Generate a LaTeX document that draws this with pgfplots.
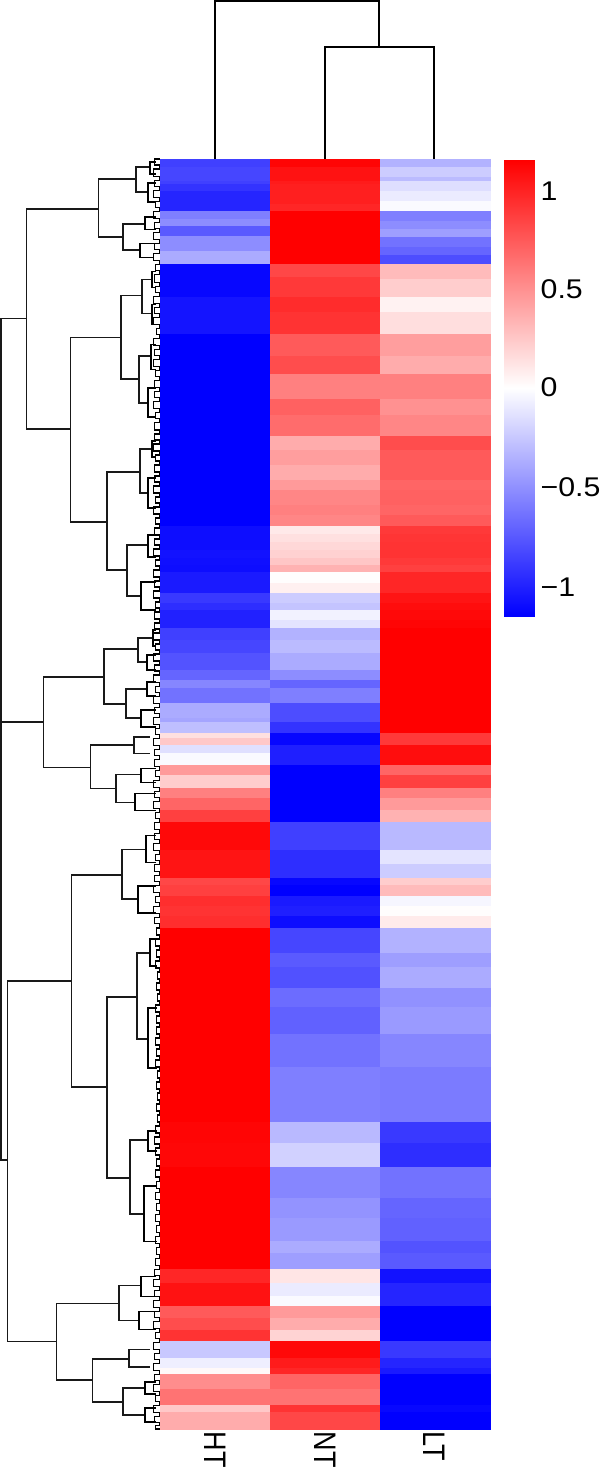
\documentclass[border=0pt]{standalone}
\usepackage{fontspec}
\setmainfont{Liberation Sans}
\usepackage{graphicx}
\usepackage{pgfplots}
\pgfplotsset{compat=1.18}
\newcommand{\lab}[1]{\scalebox{1.12}[1]{\fontsize{27}{27}\selectfont #1}}
\newcommand{\collab}[1]{\scalebox{1}[1.15]{\fontsize{27}{27}\selectfont #1}}

\begin{document}
\begin{tikzpicture}
\begin{axis}[
  scale only axis,
  width=600pt, height=1468pt,
  xmin=0, xmax=600, ymin=0, ymax=1468,
  y dir=reverse,
  hide axis,
  clip=false,
  unbounded coords=jump,
  colormap={bwr}{rgb255=(0,0,255) rgb255=(255,255,255) rgb255=(255,0,0)},
  point meta min=-1.16, point meta max=1.16,
]
% heatmap: each line is one band, top edge y, then HT NT LT (last meta is a dummy)
\addplot[surf, shader=flat corner, mesh/cols=4, point meta=explicit] coordinates {
(160,160)[-.87] (270,160)[1.14] (380,160)[-.35] (490,160)[0]
(160,168)[-.84] (270,168)[1.08] (380,168)[-.23] (490,168)[0]
(160,178)[-.84] (270,178)[1.08] (380,178)[-.31] (490,178)[0]
(160,182)[-.87] (270,182)[1.04] (380,182)[-.15] (490,182)[0]
(160,185)[-.93] (270,185)[1.02] (380,185)[-.15] (490,185)[0]
(160,192)[-.99] (270,192)[1.02] (380,192)[-.09] (490,192)[0]
(160,202)[-.99] (270,202)[1.02] (380,202)[-.02] (490,202)[0]
(160,205)[-.99] (270,205)[.99] (380,205)[-.02] (490,205)[0]
(160,212)[-.58] (270,212)[1.16] (380,212)[-.58] (490,212)[0]
(160,220)[-.52] (270,220)[1.16] (380,220)[-.58] (490,220)[0]
(160,222)[-.52] (270,222)[1.16] (380,222)[-.52] (490,222)[0]
(160,227)[-.75] (270,227)[1.16] (380,227)[-.52] (490,227)[0]
(160,230)[-.75] (270,230)[1.16] (380,230)[-.44] (490,230)[0]
(160,237)[-.52] (270,237)[1.16] (380,237)[-.44] (490,237)[0]
(160,238)[-.52] (270,238)[1.16] (380,238)[-.64] (490,238)[0]
(160,248)[-.52] (270,248)[1.16] (380,248)[-.70] (490,248)[0]
(160,252)[-.38] (270,252)[1.16] (380,252)[-.70] (490,252)[0]
(160,256)[-.38] (270,256)[1.16] (380,256)[-.81] (490,256)[0]
(160,265)[-1.13] (270,265)[.84] (380,265)[.31] (490,265)[0]
(160,278)[-1.13] (270,278)[.90] (380,278)[.31] (490,278)[0]
(160,280)[-1.13] (270,280)[.90] (380,280)[.23] (490,280)[0]
(160,298)[-1.07] (270,298)[.96] (380,298)[.06] (490,298)[0]
(160,313)[-1.07] (270,313)[.93] (380,313)[.15] (490,313)[0]
(160,335)[-1.16] (270,335)[.75] (380,335)[.44] (490,335)[0]
(160,357)[-1.16] (270,357)[.81] (380,357)[.38] (490,357)[0]
(160,375)[-1.16] (270,375)[.58] (380,375)[.58] (490,375)[0]
(160,400)[-1.16] (270,400)[.72] (380,400)[.50] (490,400)[0]
(160,415)[-1.16] (270,415)[.67] (380,415)[.55] (490,415)[0]
(160,436)[-1.16] (270,436)[.38] (380,436)[.81] (490,436)[0]
(160,450)[-1.16] (270,450)[.44] (380,450)[.75] (490,450)[0]
(160,465)[-1.16] (270,465)[.38] (380,465)[.75] (490,465)[0]
(160,480)[-1.16] (270,480)[.46] (380,480)[.70] (490,480)[0]
(160,490)[-1.16] (270,490)[.55] (380,490)[.72] (490,490)[0]
(160,505)[-1.16] (270,505)[.58] (380,505)[.70] (490,505)[0]
(160,515)[-1.16] (270,515)[.55] (380,515)[.75] (490,515)[0]
(160,526)[-1.10] (270,526)[.10] (380,526)[.90] (490,526)[0]
(160,534)[-1.10] (270,534)[.14] (380,534)[.92] (490,534)[0]
(160,542)[-1.10] (270,542)[.18] (380,542)[.93] (490,542)[0]
(160,550)[-1.08] (270,550)[.21] (380,550)[.93] (490,550)[0]
(160,558)[-1.09] (270,558)[.26] (380,558)[.90] (490,558)[0]
(160,565)[-1.10] (270,565)[.35] (380,565)[.87] (490,565)[0]
(160,572)[-1.04] (270,572)[.01] (380,572)[.99] (490,572)[0]
(160,583)[-1.04] (270,583)[.07] (380,583)[.99] (490,583)[0]
(160,593)[-.90] (270,593)[-.23] (380,593)[1.07] (490,593)[0]
(160,603)[-.95] (270,603)[-.27] (380,603)[1.10] (490,603)[0]
(160,610)[-1.01] (270,610)[-.06] (380,610)[1.12] (490,610)[0]
(160,620)[-1.01] (270,620)[-.12] (380,620)[1.14] (490,620)[0]
(160,628)[-.87] (270,628)[-.35] (380,628)[1.16] (490,628)[0]
(160,640)[-.84] (270,640)[-.31] (380,640)[1.16] (490,640)[0]
(160,653)[-.78] (270,653)[-.38] (380,653)[1.16] (490,653)[0]
(160,670)[-.70] (270,670)[-.52] (380,670)[1.16] (490,670)[0]
(160,680)[-.55] (270,680)[-.70] (380,680)[1.16] (490,680)[0]
(160,688)[-.64] (270,688)[-.58] (380,688)[1.16] (490,688)[0]
(160,703)[-.38] (270,703)[-.81] (380,703)[1.16] (490,703)[0]
(160,718)[-.41] (270,718)[-.81] (380,718)[1.16] (490,718)[0]
(160,722)[-.29] (270,722)[-.93] (380,722)[1.16] (490,722)[0]
(160,733)[.14] (270,733)[-1.13] (380,733)[.90] (490,733)[0]
(160,738)[.25] (270,738)[-1.13] (380,738)[.90] (490,738)[0]
(160,745)[-.14] (270,745)[-1.02] (380,745)[1.10] (490,745)[0]
(160,753)[-.02] (270,753)[-1.02] (380,753)[1.10] (490,753)[0]
(160,765)[.46] (270,765)[-1.16] (380,765)[.70] (490,765)[0]
(160,775)[.23] (270,775)[-1.16] (380,775)[.87] (490,775)[0]
(160,788)[.58] (270,788)[-1.16] (380,788)[.58] (490,788)[0]
(160,798)[.70] (270,798)[-1.16] (380,798)[.46] (490,798)[0]
(160,810)[.87] (270,810)[-1.16] (380,810)[.35] (490,810)[0]
(160,822)[1.12] (270,822)[-.87] (380,822)[-.32] (490,822)[0]
(160,850)[1.07] (270,850)[-.95] (380,850)[-.12] (490,850)[0]
(160,864)[1.07] (270,864)[-.95] (380,864)[-.23] (490,864)[0]
(160,878)[.84] (270,878)[-1.13] (380,878)[.23] (490,878)[0]
(160,885)[.87] (270,885)[-1.16] (380,885)[.31] (490,885)[0]
(160,896)[.95] (270,896)[-1.04] (380,896)[-.04] (490,896)[0]
(160,905)[.93] (270,905)[-1.02] (380,905)[.01] (490,905)[0]
(160,915)[.95] (270,915)[-1.10] (380,915)[.09] (490,915)[0]
(160,927)[1.16] (270,927)[-.84] (380,927)[-.35] (490,927)[0]
(160,952)[1.16] (270,952)[-.75] (380,952)[-.44] (490,952)[0]
(160,966)[1.16] (270,966)[-.79] (380,966)[-.38] (490,966)[0]
(160,987)[1.16] (270,987)[-.67] (380,987)[-.50] (490,987)[0]
(160,1006)[1.16] (270,1006)[-.72] (380,1006)[-.46] (490,1006)[0]
(160,1033)[1.16] (270,1033)[-.64] (380,1033)[-.55] (490,1033)[0]
(160,1066)[1.16] (270,1066)[-.58] (380,1066)[-.60] (490,1066)[0]
(160,1121)[1.14] (270,1121)[-.32] (380,1121)[-.90] (490,1121)[0]
(160,1142)[1.13] (270,1142)[-.21] (380,1142)[-.95] (490,1142)[0]
(160,1166)[1.16] (270,1166)[-.55] (380,1166)[-.64] (490,1166)[0]
(160,1197)[1.16] (270,1197)[-.49] (380,1197)[-.70] (490,1197)[0]
(160,1217)[1.16] (270,1217)[-.46] (380,1217)[-.72] (490,1217)[0]
(160,1240)[1.16] (270,1240)[-.38] (380,1240)[-.78] (490,1240)[0]
(160,1252)[1.16] (270,1252)[-.44] (380,1252)[-.75] (490,1252)[0]
(160,1268)[.99] (270,1268)[.12] (380,1268)[-1.08] (490,1268)[0]
(160,1282)[1.08] (270,1282)[-.09] (380,1282)[-.99] (490,1282)[0]
(160,1295)[1.08] (270,1295)[-.02] (380,1295)[-.99] (490,1295)[0]
(160,1305)[.75] (270,1305)[.46] (380,1305)[-1.16] (490,1305)[0]
(160,1317)[.81] (270,1317)[.38] (380,1317)[-1.16] (490,1317)[0]
(160,1329)[.93] (270,1329)[.20] (380,1329)[-1.16] (490,1329)[0]
(160,1340)[-.25] (270,1340)[1.12] (380,1340)[-.90] (490,1340)[0]
(160,1357)[-.07] (270,1357)[1.04] (380,1357)[-.99] (490,1357)[0]
(160,1367)[.03] (270,1367)[.99] (380,1367)[-1.04] (490,1367)[0]
(160,1373)[.52] (270,1373)[.70] (380,1373)[-1.16] (490,1373)[0]
(160,1388)[.64] (270,1388)[.64] (380,1388)[-1.16] (490,1388)[0]
(160,1403)[.25] (270,1403)[.93] (380,1403)[-1.13] (490,1403)[0]
(160,1410)[.38] (270,1410)[.84] (380,1410)[-1.16] (490,1410)[0]
(160,1427)[0] (270,1427)[0] (380,1427)[0] (490,1427)[0]
};
% colour bar
\addplot[surf, shader=interp, mesh/cols=2, point meta=explicit] coordinates {
(504,161)[1.16] (534,161)[1.16]
(504,388)[0] (534,388)[0]
(504,616)[-1.16] (534,616)[-1.16]
};
% column tree
\addplot[black, line width=1.8pt] coordinates {
(215,160)(215,2)(379,2)(379,48) (nan,nan)
(325,160)(325,48)(434,48)(434,160)
};
% row tree, upper levels
\addplot[black!90, line width=1.8pt] coordinates {
(1.5,722)(1.5,319)(27,319) (nan,nan) (1.5,722)(44,722) (nan,nan)
(1.5,722)(1.5,1159)(8,1159) (nan,nan)
(99,210)(27,210)(27,429)(71,429) (nan,nan)
(136,180)(99,180)(99,238)(123,238) (nan,nan)
(150,168)(136,168)(136,193)(148,193) (nan,nan)
(145,225)(123,225)(123,251)(140,251) (nan,nan)
(121,338)(71,338)(71,522)(107,522) (nan,nan)
(142,296)(121,296)(121,379)(139,379) (nan,nan)
(152,280)(142,280)(142,314)(152,314) (nan,nan)
(151,356)(139,356)(139,403)(148,403) (nan,nan)
(140,472)(107,472)(107,570)(127,570) (nan,nan)
(152,449)(140,449)(140,493)(148,493) (nan,nan)
(148,545)(127,545)(127,596)(141,596) (nan,nan)
(104,677)(44,677)(44,767)(91,767) (nan,nan)
(138,649)(104,649)(104,704)(126,704) (nan,nan)
(153,638)(138,638)(138,662)(147,662) (nan,nan)
(147,689)(126,689)(126,718)(141,718) (nan,nan)
(134,745)(91,745)(91,788)(116,788) (nan,nan)
(150,737)(134,737)(134,753)(150,753) (nan,nan)
(141,774)(116,774)(116,802)(135,802) (nan,nan)
(72,980)(8,980)(8,1340)(57,1340) (nan,nan)
(122,874)(72,874)(72,1086)(107,1086) (nan,nan)
(146,849)(122,849)(122,898)(138,898) (nan,nan)
(137,996)(107,996)(107,1177)(130,1177) (nan,nan)
(150,952)(137,952)(137,1038)(148,1038) (nan,nan)
(148,1139)(130,1139)(130,1213)(144,1213) (nan,nan)
(119,1302)(57,1302)(57,1378)(93,1378) (nan,nan)
(141,1284)(119,1284)(119,1319)(139,1319) (nan,nan)
(129,1357)(93,1357)(93,1400)(123,1400) (nan,nan)
(150,1348)(129,1348)(129,1365)(150,1365) (nan,nan)
(145,1386)(123,1386)(123,1413)(145,1413)
};
% row tree, small clusters
\addplot[black, line width=1.7pt] coordinates {
(156,163)(150,163)(150,175)(156,175) (nan,nan)
(156,184)(148,184)(148,203)(156,203) (nan,nan)
(156,218)(145,218)(145,230)(156,230) (nan,nan)
(154,244)(140,244)(140,258)(154,258) (nan,nan)
(156,272)(152,272)(152,288)(156,288) (nan,nan)
(156,305)(152,305)(152,325)(156,325) (nan,nan)
(156,345)(151,345)(151,370)(156,370) (nan,nan)
(156,388)(148,388)(148,417)(156,417) (nan,nan)
(156,441)(152,441)(152,457)(156,457) (nan,nan)
(156,478)(148,478)(148,508)(156,508) (nan,nan)
(156,535)(148,535)(148,557)(156,557) (nan,nan)
(156,582)(141,582)(141,610)(156,610) (nan,nan)
(156,630)(153,630)(153,646)(156,646) (nan,nan)
(156,655)(147,655)(147,670)(156,670) (nan,nan)
(156,682)(147,682)(147,696)(156,696) (nan,nan)
(156,710)(141,710)(141,727)(156,727) (nan,nan)
(156,768)(141,768)(141,782)(156,782) (nan,nan)
(156,793)(135,793)(135,810)(156,810) (nan,nan)
(156,835)(146,835)(146,862)(156,862) (nan,nan)
(156,885)(138,885)(138,912)(156,912) (nan,nan)
(157,938)(150,938)(150,965)(157,965) (nan,nan)
(157,1007)(148,1007)(148,1067)(157,1067) (nan,nan)
(157,1130)(148,1130)(148,1150)(157,1150) (nan,nan)
(157,1185)(144,1185)(144,1240)(157,1240) (nan,nan)
(156,1275)(141,1275)(141,1295)(156,1295) (nan,nan)
(156,1310)(139,1310)(139,1328)(156,1328) (nan,nan)
(156,1380)(145,1380)(145,1392)(156,1392) (nan,nan)
(156,1406)(145,1406)(145,1420)(156,1420)
};
% row tree, leaves: a comb along the heatmap edge
\addplot[black, line width=1.5pt] coordinates {
(160,160)(155,160)(155,166)(160,166)(160,170)(154,170)(154,177)(160,177)
(160,181)(155,181)(155,187)(160,187)(160,191)(154,191)(154,198)(160,198)
(160,202)(156,202)(156,208)(160,208)(160,212)(154,212)(154,219)(160,219)
(160,223)(155,223)(155,229)(160,229)(160,233)(154,233)(154,240)(160,240)
(160,244)(155,244)(155,250)(160,250)(160,254)(154,254)(154,261)(160,261)
(160,265)(156,265)(156,271)(160,271)(160,275)(155,275)(155,283)(160,283)
(160,287)(156,287)(156,293)(160,293)(160,297)(154,297)(154,304)(160,304)
(160,308)(155,308)(155,314)(160,314)(160,318)(154,318)(154,325)(160,325)
(160,329)(157,329)(157,335)(160,335)(160,339)(154,339)(154,346)(160,346)
(160,350)(155,350)(155,356)(160,356)(160,360)(154,360)(154,367)(160,367)
(160,371)(156,371)(156,377)(160,377)(160,381)(155,381)(155,388)(160,388)
(160,392)(155,392)(155,398)(160,398)(160,402)(154,402)(154,409)(160,409)
(160,413)(156,413)(156,419)(160,419)(160,423)(155,423)(155,430)(160,430)
(160,434)(155,434)(155,440)(160,440)(160,444)(154,444)(154,451)(160,451)
(160,455)(156,455)(156,461)(160,461)(160,465)(155,465)(155,472)(160,472)
(160,476)(155,476)(155,482)(160,482)(160,486)(154,486)(154,493)(160,493)
(160,497)(156,497)(156,503)(160,503)(160,507)(154,507)(154,514)(160,514)
(160,518)(156,518)(156,524)(160,524)(160,528)(155,528)(155,535)(160,535)
(160,539)(155,539)(155,545)(160,545)(160,549)(154,549)(154,556)(160,556)
(160,560)(156,560)(156,566)(160,566)(160,570)(154,570)(154,577)(160,577)
(160,581)(155,581)(155,587)(160,587)(160,591)(154,591)(154,598)(160,598)
(160,602)(156,602)(156,608)(160,608)(160,612)(155,612)(155,619)(160,619)
(160,623)(155,623)(155,629)(160,629)(160,633)(154,633)(154,640)(160,640)
(160,644)(156,644)(156,650)(160,650)(160,654)(154,654)(154,661)(160,661)
(160,665)(155,665)(155,671)(160,671)(160,675)(154,675)(154,682)(160,682)
(160,686)(156,686)(156,692)(160,692)(160,696)(154,696)(154,703)(160,703)
(160,707)(155,707)(155,713)(160,713)(160,717)(154,717)(154,724)(160,724)
(160,728)(156,728)(156,734)(160,734)(160,738)(154,738)(154,745)(160,745)
(160,749)(155,749)(155,755)(160,755)(160,759)(155,759)(155,766)(160,766)
(160,770)(156,770)(156,776)(160,776)(160,780)(154,780)(154,787)(160,787)
(160,791)(155,791)(155,797)(160,797)(160,801)(154,801)(154,808)(160,808)
(160,812)(156,812)(156,818)(160,818)(160,822)(155,822)(155,829)(160,829)
(160,833)(155,833)(155,839)(160,839)(160,843)(154,843)(154,850)(160,850)
(160,854)(156,854)(156,860)(160,860)(160,864)(155,864)(155,871)(160,871)
(160,875)(155,875)(155,881)(160,881)(160,885)(154,885)(154,892)(160,892)
(160,896)(156,896)(156,902)(160,902)(160,906)(154,906)(154,913)(160,913)
(160,917)(155,917)(155,923)(160,923)(160,927)(157,927)(157,934)(160,934)
(160,938)(156,938)(156,945)(160,945)(160,949)(157,949)(157,956)(160,956)
(160,960)(156,960)(156,967)(160,967)(160,971)(158,971)(158,978)(160,978)
(160,982)(157,982)(157,989)(160,989)(160,993)(158,993)(158,1000)(160,1000)
(160,1004)(156,1004)(156,1011)(160,1011)(160,1015)(157,1015)(157,1022)(160,1022)
(160,1026)(157,1026)(157,1033)(160,1033)(160,1037)(156,1037)(156,1044)(160,1044)
(160,1048)(157,1048)(157,1055)(160,1055)(160,1059)(156,1059)(156,1066)(160,1066)
(160,1070)(158,1070)(158,1077)(160,1077)(160,1081)(157,1081)(157,1088)(160,1088)
(160,1092)(158,1092)(158,1099)(160,1099)(160,1103)(157,1103)(157,1110)(160,1110)
(160,1114)(158,1114)(158,1121)(160,1121)(160,1125)(156,1125)(156,1132)(160,1132)
(160,1136)(155,1136)(155,1143)(160,1143)(160,1147)(156,1147)(156,1154)(160,1154)
(160,1158)(157,1158)(157,1165)(160,1165)(160,1169)(156,1169)(156,1176)(160,1176)
(160,1180)(157,1180)(157,1187)(160,1187)(160,1191)(156,1191)(156,1198)(160,1198)
(160,1202)(157,1202)(157,1209)(160,1209)(160,1213)(156,1213)(156,1220)(160,1220)
(160,1224)(157,1224)(157,1231)(160,1231)(160,1235)(156,1235)(156,1242)(160,1242)
(160,1246)(157,1246)(157,1253)(160,1253)(160,1257)(156,1257)(156,1264)(160,1264)
(160,1268)(155,1268)(155,1274)(160,1274)(160,1278)(154,1278)(154,1285)(160,1285)
(160,1289)(155,1289)(155,1295)(160,1295)(160,1299)(154,1299)(154,1306)(160,1306)
(160,1310)(155,1310)(155,1316)(160,1316)(160,1320)(154,1320)(154,1327)(160,1327)
(160,1331)(156,1331)(156,1337)(160,1337)(160,1341)(154,1341)(154,1348)(160,1348)
(160,1352)(155,1352)(155,1358)(160,1358)(160,1362)(154,1362)(154,1369)(160,1369)
(160,1373)(155,1373)(155,1379)(160,1379)(160,1383)(154,1383)(154,1390)(160,1390)
(160,1394)(156,1394)(156,1400)(160,1400)(160,1404)(154,1404)(154,1411)(160,1411)
(160,1415)(155,1415)(155,1421)(160,1421)(160,1424)(156,1424)(156,1427)(160,1427)
};
% colour bar labels
\node[anchor=west, inner sep=0pt] at (axis cs:540,192) {\lab{1}};
\node[anchor=west, inner sep=0pt] at (axis cs:540,290) {\lab{0.5}};
\node[anchor=west, inner sep=0pt] at (axis cs:540,388) {\lab{0}};
\node[anchor=west, inner sep=0pt] at (axis cs:540,487) {\lab{−0.5}};
\node[anchor=west, inner sep=0pt] at (axis cs:540,587) {\lab{−1}};
% column labels
\node[anchor=west, rotate=-90, inner sep=0pt] at (axis cs:215,1430) {\collab{HT}};
\node[anchor=west, rotate=-90, inner sep=0pt] at (axis cs:325,1430) {\collab{NT}};
\node[anchor=west, rotate=-90, inner sep=0pt] at (axis cs:434,1430) {\collab{LT}};
\end{axis}
\end{tikzpicture}
\end{document}
